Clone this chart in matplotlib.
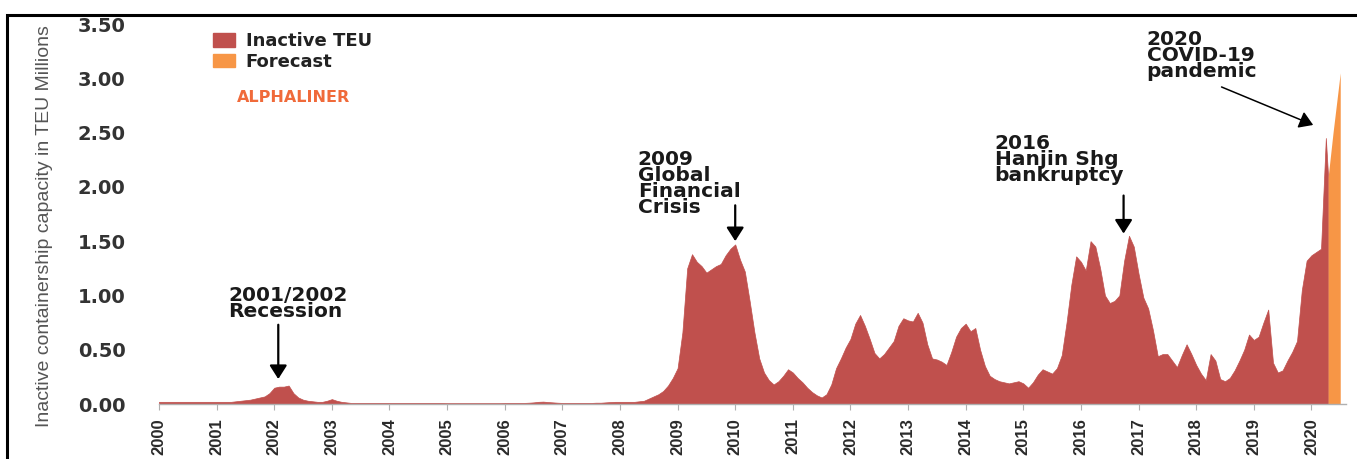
import numpy as np
import matplotlib.pyplot as plt
from matplotlib.patches import Patch, Rectangle

# inactive containership capacity, million TEU, monthly from Jan 2000 to Apr 2020
start_year = 2000
inactive_teu = [
    0.02, 0.02, 0.02, 0.02, 0.02, 0.02, 0.02, 0.02, 0.02, 0.02, 0.02, 0.02,      # 2000
    0.02, 0.02, 0.02, 0.02, 0.025, 0.03, 0.035, 0.04, 0.05, 0.06, 0.07, 0.10,    # 2001
    0.15, 0.16, 0.16, 0.17, 0.10, 0.06, 0.04, 0.03, 0.025, 0.02, 0.02, 0.03,     # 2002
    0.045, 0.03, 0.02, 0.015, 0.01, 0.01, 0.01, 0.01, 0.01, 0.01, 0.01, 0.01,    # 2003
    0.01, 0.01, 0.01, 0.01, 0.01, 0.01, 0.01, 0.01, 0.01, 0.01, 0.01, 0.01,      # 2004
    0.008, 0.008, 0.008, 0.008, 0.008, 0.008, 0.008, 0.008, 0.008, 0.008, 0.008, 0.008,  # 2005
    0.01, 0.01, 0.01, 0.01, 0.01, 0.012, 0.015, 0.02, 0.022, 0.018, 0.015, 0.012,  # 2006
    0.01, 0.01, 0.01, 0.01, 0.01, 0.01, 0.01, 0.012, 0.012, 0.015, 0.018, 0.02,  # 2007
    0.02, 0.02, 0.02, 0.02, 0.025, 0.03, 0.05, 0.07, 0.09, 0.12, 0.17, 0.24,     # 2008
    0.33, 0.66, 1.25, 1.38, 1.31, 1.27, 1.21, 1.24, 1.27, 1.29, 1.37, 1.43,      # 2009
    1.47, 1.33, 1.22, 0.95, 0.66, 0.42, 0.29, 0.22, 0.18, 0.21, 0.26, 0.32,      # 2010
    0.29, 0.24, 0.20, 0.15, 0.11, 0.08, 0.06, 0.09, 0.18, 0.33, 0.42, 0.52,      # 2011
    0.60, 0.74, 0.82, 0.72, 0.60, 0.47, 0.42, 0.46, 0.52, 0.58, 0.72, 0.79,      # 2012
    0.77, 0.76, 0.84, 0.75, 0.55, 0.42, 0.41, 0.39, 0.36, 0.48, 0.62, 0.70,      # 2013
    0.74, 0.67, 0.70, 0.50, 0.35, 0.26, 0.23, 0.21, 0.20, 0.19, 0.20, 0.21,      # 2014
    0.19, 0.15, 0.20, 0.27, 0.32, 0.30, 0.28, 0.33, 0.45, 0.75, 1.10, 1.36,      # 2015
    1.31, 1.23, 1.50, 1.45, 1.25, 1.00, 0.93, 0.95, 1.00, 1.32, 1.55, 1.45,      # 2016
    1.20, 0.98, 0.88, 0.68, 0.44, 0.46, 0.46, 0.40, 0.34, 0.45, 0.55, 0.46,      # 2017
    0.36, 0.28, 0.22, 0.46, 0.40, 0.23, 0.21, 0.24, 0.31, 0.40, 0.50, 0.64,      # 2018
    0.59, 0.62, 0.75, 0.87, 0.38, 0.29, 0.31, 0.40, 0.48, 0.58, 1.05, 1.32,      # 2019
    1.37, 1.40, 1.43, 2.45,                                                      # 2020
]
# last observed point before the forecast starts
inactive_end_x = [2020.29]
inactive_end = [2.09]

forecast_x = [2020.29, 2020.375, 2020.5]
forecast_teu = [2.09, 2.50, 3.05]

year_ticks = list(range(2000, 2021))
y_ticks = [0.0, 0.5, 1.0, 1.5, 2.0, 2.5, 3.0, 3.5]

# event labels: (text, text x, text y, arrow tail, arrow head)
events = [
    ("2001/2002\nRecession", 2001.2, 0.93, (2002.07, 0.73), (2002.07, 0.23)),
    ("2009\nGlobal\nFinancial\nCrisis", 2008.31, 2.03, (2010.0, 1.83), (2010.0, 1.50)),
    ("2016\nHanjin Shg\nbankruptcy", 2014.5, 2.25, (2016.74, 1.92), (2016.74, 1.57)),
    ("2020\nCOVID-19\npandemic", 2017.14, 3.21, (2018.44, 2.92), (2020.03, 2.57)),
]

red = '#C0504D'
orange = '#F79646'

x = start_year + np.arange(len(inactive_teu)) / 12.0
x = np.concatenate([x, inactive_end_x])
y = np.concatenate([inactive_teu, inactive_end])

fig = plt.figure(figsize=(13.57, 4.59), dpi=100)
ax = fig.add_axes([159/1357, 55/459, 1187/1357, 380/459])

ax.fill_between(x, 0, y, color=red, linewidth=0.5, edgecolor=red)
ax.fill_between(forecast_x, 0, forecast_teu, color=orange, linewidth=0)

ax.set_xlim(2000, 2020.6)
ax.set_ylim(0, 3.5)

for s in ['top', 'right', 'left']:
    ax.spines[s].set_visible(False)
ax.spines['bottom'].set_color('#b0b0b0')
ax.spines['bottom'].set_linewidth(1.0)

ax.set_xticks(year_ticks)
ax.set_xticklabels([str(v) for v in year_ticks], rotation=90, fontweight='bold',
                   fontsize=12, color='#2a2a2a', family='Liberation Sans')
ax.tick_params(axis='x', length=4, color='#b0b0b0', pad=6)

ax.set_yticks(y_ticks)
ax.set_yticklabels(['%.2f' % v for v in y_ticks], fontweight='bold', fontsize=14, color='#333333')
ax.tick_params(axis='y', length=0, pad=24)

fig.text(45/1357, 0.508, 'Inactive containership capacity in TEU Millions', rotation=90,
         ha='center', va='center', fontsize=14, color='#555555', family='Liberation Sans')

for label, tx, ty, tail, head in events:
    ax.text(tx, ty, label, ha='left', va='center', fontsize=14.5, fontweight='bold',
            color='#1a1a1a', linespacing=0.8)
    lw = 1.1 if head[0] != tail[0] else 1.6
    ax.annotate('', xy=head, xytext=tail,
                arrowprops=dict(arrowstyle='-|>,head_length=0.55,head_width=0.35',
                                color='black', lw=lw, mutation_scale=15, shrinkA=0, shrinkB=0))

handles = [Patch(color=red), Patch(color=orange)]
leg = fig.legend(handles, ['Inactive TEU', 'Forecast'], loc='upper left',
                 bbox_to_anchor=(213/1357, 1 - 32/459), frameon=False,
                 prop={'weight': 'bold', 'size': 13}, handlelength=1.2, handleheight=0.8,
                 handletextpad=0.6, labelspacing=0.15, borderpad=0, borderaxespad=0)
for t in leg.get_texts():
    t.set_color('#222222')

fig.text(237/1357, 1 - 97/459, 'ALPHALINER', ha='left', va='center', fontsize=11.5,
         fontweight='bold', color='#F06A3A')

# frame around the picture
fig.add_artist(Rectangle((7/1357, -0.1), 1.2, 1.1 - 15/459,
                         transform=fig.transFigure, fill=False, edgecolor='black',
                         linewidth=2.2, clip_on=False))

fig.savefig('out.png', dpi=100)
